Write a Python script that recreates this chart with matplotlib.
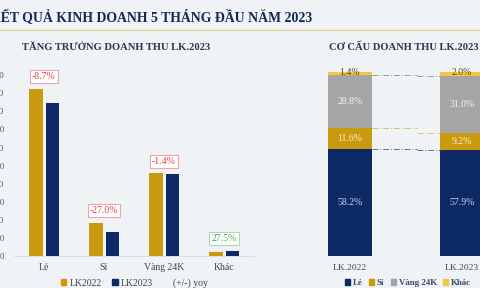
import numpy as np
import matplotlib.pyplot as plt
from matplotlib.patches import Patch

# left panel data (billion VND)
categories = ['Lẻ', 'Sỉ', 'Vàng 24K', 'Khác']
rev_2022 = [9250, 1840, 4570, 230]
rev_2023 = [8440, 1330, 4520, 290]
yoy = [-8.7, -27.0, -1.4, 27.5]
yticks = [0, 1000, 2000, 3000, 4000, 5000, 6000, 7000, 8000, 9000, 10000]

# right panel data (%)
periods = ['LK.2022', 'LK.2023']
seg_names = ['Lẻ', 'Sỉ', 'Vàng 24K', 'Khác']
share_le = [58.2, 57.9]
share_si = [11.6, 9.2]
share_24k = [28.8, 31.0]
share_khac = [1.4, 2.0]

GOLD = '#C99A0E'
NAVY = '#0E2A66'
GRAY = '#A5A5A5'
YELLOW = '#F2C744'
SERIF = ['Liberation Serif', 'DejaVu Serif']

W, H = 480, 288
fig = plt.figure(figsize=(4.8, 2.88), dpi=100)
fig.patch.set_facecolor('#F0F3F6')

def fx(px):
    return px / W

def fy(py):
    return 1 - py / H

# header
fig.text(fx(-10), fy(17), 'KẾT QUẢ KINH DOANH 5 THÁNG ĐẦU NĂM 2023', family=SERIF,
         weight='bold', fontsize=9.9, color='#14285A', va='center', ha='left')
fig.add_artist(plt.Line2D([0, 1], [fy(29.5), fy(29.5)], color='#E3D39A', lw=1.0))
fig.text(fx(22), fy(47), 'TĂNG TRƯỞNG DOANH THU LK.2023', family=SERIF, weight='bold',
         fontsize=7.6, color='#2B3650', va='center')
fig.text(fx(329), fy(47), 'CƠ CẤU DOANH THU LK.2023', family=SERIF, weight='bold',
         fontsize=7.6, color='#2B3650', va='center')

# ---- left: growth bars
ax = fig.add_axes([fx(14), fy(256), fx(240), (256 - 75) / H])
ax.set_facecolor('none')
x = np.arange(len(categories))
w = 0.22
ax.bar(x - 0.135, rev_2022, w, color=GOLD)
ax.bar(x + 0.135, rev_2023, w, color=NAVY)
ax.set_xlim(-0.5, 3.5)
ax.set_ylim(0, 10000)
ax.set_yticks(yticks)
ax.set_yticklabels([f'{v:,}' for v in yticks], family=SERIF, fontsize=6.5, color='#555555')
ax.set_xticks(x)
ax.set_xticklabels(categories, family=SERIF, fontsize=7, color='#444444')
ax.tick_params(length=0, axis='y', pad=7)
ax.tick_params(length=0, axis='x', pad=5)
for s in ['top', 'right', 'left']:
    ax.spines[s].set_visible(False)
ax.spines['bottom'].set_color('#D8DCE2')
ax.spines['bottom'].set_linewidth(0.6)

for i, v in enumerate(yoy):
    top = max(rev_2022[i], rev_2023[i])
    if v < 0:
        tc, ec = '#D9434D', '#F0A4AA'
    else:
        tc, ec = '#3FA45E', '#A8D8B5'
    ax.annotate(f'{v:.1f}%', (x[i], top), xytext=(0, 5.5), textcoords='offset points',
                ha='center', va='bottom', family=SERIF, fontsize=7, color=tc,
                bbox=dict(boxstyle='square,pad=0.22', fc='white', ec=ec, lw=0.8))

left_handles = [Patch(color=GOLD, label='LK2022'), Patch(color=NAVY, label='LK2023'),
                Patch(fc='none', ec='none', label='(+/-) yoy')]
leg1 = fig.legend(handles=left_handles, loc='center', bbox_to_anchor=(fx(134), fy(283)),
                  ncol=3, frameon=False, prop={'family': SERIF, 'size': 7},
                  handlelength=0.6, handleheight=0.6, handletextpad=0.3, columnspacing=1.1,
                  borderpad=0)
for t in leg1.get_texts():
    t.set_color('#444444')

# ---- right: structure stacked bars
ax2 = fig.add_axes([fx(350 - 0.9 * 112), fy(256), fx(2.2 * 112), (256 - 72.3) / H])
ax2.set_facecolor('none')
xp = np.arange(len(periods))
bw = 0.4
series = [share_le, share_si, share_24k, share_khac]
colors = [NAVY, GOLD, GRAY, YELLOW]
bottom = np.zeros(len(periods))
txtcol = ['#C9D5F2', '#FBEFD0', '#F4F4F4', '#5A4A12']
tops = []
for vals, c, name, tc in zip(series, colors, seg_names, txtcol):
    vals = np.array(vals)
    ax2.bar(xp, vals, bw, bottom=bottom, color=c)
    for j in range(len(periods)):
        if name == 'Khác':
            yy = bottom[j] + vals[j] - 0.3
        else:
            yy = bottom[j] + vals[j] / 2
        ax2.text(xp[j], yy, f'{vals[j]:.1f}%', ha='center', va='center', family=SERIF,
                 fontsize=7, color=tc)
    bottom = bottom + vals
    tops.append(bottom.copy())

# stepped dashed connectors between segment tops
line_cols = ['#6E6E6E', '#D9C36A', '#999999']
x0, x1 = xp[0] + bw / 2, xp[1] - bw / 2
xm = (x0 + x1) / 2 + 0.1
for t, lc in zip(tops[:3], line_cols):
    ax2.plot([x0, xm], [t[0], t[0]], color=lc, lw=0.7, ls=(0, (6, 2, 1, 2)))
    ax2.plot([xm, x1], [t[1], t[1]], color=lc, lw=0.7, ls=(0, (6, 2, 1, 2)))

ax2.set_xlim(-0.9, 1.3)
ax2.set_ylim(0, 100)
ax2.set_yticks([])
ax2.set_xticks(xp)
ax2.set_xticklabels(periods, family=SERIF, fontsize=6.8, color='#444444')
ax2.tick_params(length=0, axis='x', pad=6)
for s in ['top', 'right', 'left', 'bottom']:
    ax2.spines[s].set_visible(False)

right_handles = [Patch(color=c, label=n) for c, n in zip(colors, seg_names)]
leg2 = fig.legend(handles=right_handles, loc='center', bbox_to_anchor=(fx(408), fy(283)),
                  ncol=4, frameon=False, prop={'family': SERIF, 'size': 6.4, 'weight': 'bold'},
                  handlelength=0.6, handleheight=0.6, handletextpad=0.3, columnspacing=0.7,
                  borderpad=0)
for t in leg2.get_texts():
    t.set_color('#3A4A6A')

fig.savefig('out.png', dpi=100, facecolor=fig.get_facecolor())
